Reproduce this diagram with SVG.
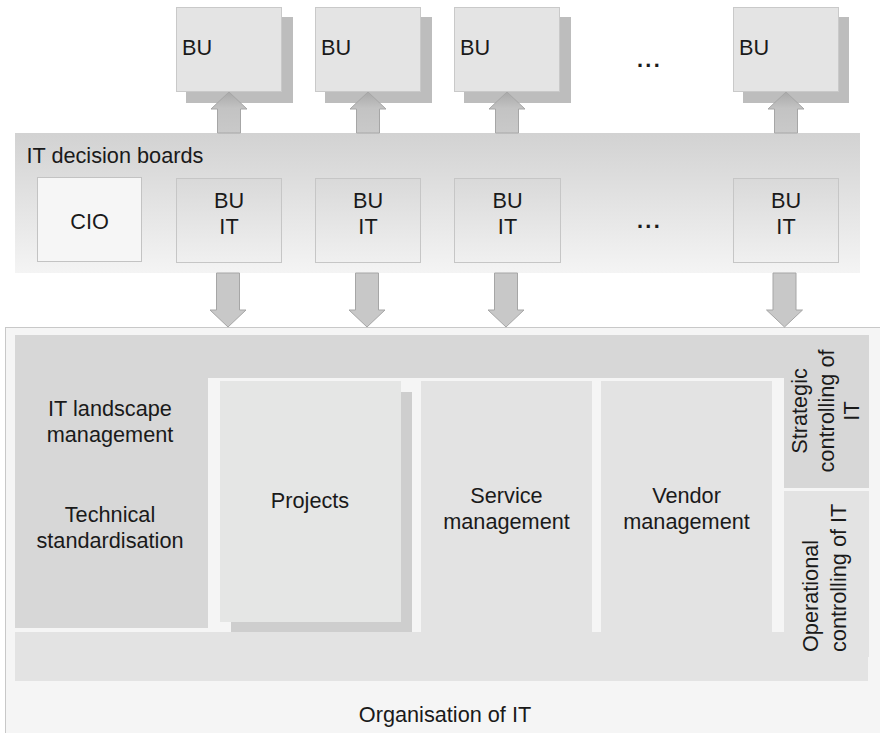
<svg xmlns="http://www.w3.org/2000/svg" width="880" height="733" viewBox="0 0 880 733">
<defs>
<style>
text{font-family:"Liberation Sans",Arial,sans-serif;font-size:21.7px;fill:#1a1a1a}
.c{text-anchor:middle}
.bu{fill:#e4e4e4;stroke:#c9c9c9;stroke-width:1}
.sh{fill:#bdbdbd}
.buit{fill:url(#gBox);stroke:#c6c6c6;stroke-width:1}
.arr{fill:url(#gArr);stroke:#a6a6a6;stroke-width:1}
.arrd{fill:#c8c8c8;stroke:#a6a6a6;stroke-width:1}
.dk{fill:#d7d7d7}
.md{fill:#e3e3e3}
.dots{font-weight:bold;letter-spacing:2.3px}
</style>
<linearGradient id="gBand" x1="0" y1="0" x2="0" y2="1"><stop offset="0" stop-color="#d2d2d2"/><stop offset="1" stop-color="#f4f4f4"/></linearGradient>
<linearGradient id="gBox" x1="0" y1="0" x2="0" y2="1"><stop offset="0" stop-color="#d9d9d9"/><stop offset="1" stop-color="#f0f0f0"/></linearGradient>
<linearGradient id="gArr" x1="0" y1="0" x2="0" y2="1"><stop offset="0" stop-color="#a9a9a9"/><stop offset="0.4" stop-color="#c3c3c3"/><stop offset="1" stop-color="#c9c9c9"/></linearGradient>
</defs>
<rect width="880" height="733" fill="#ffffff"/>

<g id="organisation">
<rect x="5.5" y="327.5" width="890" height="420" fill="#f5f5f5" stroke="#c8c8c8"/>
<rect class="dk" x="15" y="335" width="854" height="43"/>
<rect class="md" x="15" y="632" width="853" height="49"/>
<text class="c" x="445" y="722">Organisation of IT</text>
</g>

<g id="landscape">
<rect class="dk" x="15" y="335" width="193" height="293"/>
<text class="c" x="110" y="415.5">IT landscape</text>
<text class="c" x="110" y="441.5">management</text>
<text class="c" x="110" y="522">Technical</text>
<text class="c" x="110" y="548">standardisation</text>
</g>

<g id="projects">
<rect fill="#cecece" x="231" y="392" width="181" height="240"/>
<rect fill="#e5e6e5" x="220" y="381" width="181" height="241"/>
<text class="c" x="310" y="507.5">Projects</text>
</g>

<g id="service">
<rect class="md" x="421" y="381" width="171" height="251"/>
<text class="c" x="506.5" y="502.5">Service</text>
<text class="c" x="506.5" y="528.5">management</text>
</g>

<g id="vendor">
<rect class="md" x="601" y="381" width="171" height="251"/>
<text class="c" x="686.5" y="502.5">Vendor</text>
<text class="c" x="686.5" y="528.5">management</text>
</g>

<g id="strategic">
<rect class="dk" x="784" y="335" width="85" height="153"/>
<text class="c" transform="translate(826,411) rotate(-90)"><tspan x="0" y="-19">Strategic</tspan><tspan x="0" y="8">controlling of</tspan><tspan x="0" y="33">IT</tspan></text>
</g>

<g id="operational">
<rect class="md" x="784" y="491" width="85" height="166"/>
<text transform="rotate(-90)"><tspan x="-652" y="818">Operational</tspan><tspan x="-652" y="846">controlling of IT</tspan></text>
</g>

<g id="bu1"><rect class="sh" x="186" y="17" width="107" height="86"/><rect class="bu" x="176.5" y="7.5" width="105" height="84"/><text x="182" y="55">BU</text></g>
<g id="bu2"><rect class="sh" x="325" y="17" width="107" height="86"/><rect class="bu" x="315.5" y="7.5" width="105" height="84"/><text x="321" y="55">BU</text></g>
<g id="bu3"><rect class="sh" x="464" y="17" width="107" height="86"/><rect class="bu" x="454.5" y="7.5" width="105" height="84"/><text x="460" y="55">BU</text></g>
<g id="bu-more"><text class="dots" x="637" y="67">...</text></g>
<g id="bu4"><rect class="sh" x="743" y="17" width="106" height="86"/><rect class="bu" x="733.5" y="7.5" width="105" height="84"/><text x="739" y="55">BU</text></g>

<g id="decision-boards">
<rect x="15" y="133" width="845" height="140" fill="url(#gBand)"/>
<text x="26.5" y="162.5">IT decision boards</text>
</g>
<g id="cio"><rect x="37.5" y="177.5" width="104" height="84" fill="#f6f6f6" stroke="#c3c3c3"/><text class="c" x="89.5" y="229">CIO</text></g>
<g id="buit1"><rect class="buit" x="176.5" y="178.5" width="105" height="84"/><text class="c" x="229" y="208">BU</text><text class="c" x="229" y="234">IT</text></g>
<g id="buit2"><rect class="buit" x="315.5" y="178.5" width="105" height="84"/><text class="c" x="368" y="208">BU</text><text class="c" x="368" y="234">IT</text></g>
<g id="buit3"><rect class="buit" x="454.5" y="178.5" width="106" height="84"/><text class="c" x="507.5" y="208">BU</text><text class="c" x="507.5" y="234">IT</text></g>
<g id="buit-more"><text class="dots" x="637" y="228">...</text></g>
<g id="buit4"><rect class="buit" x="733.5" y="178.5" width="105" height="84"/><text class="c" x="786" y="208">BU</text><text class="c" x="786" y="234">IT</text></g>

<g id="connectors">
<path class="arr" d="M217.5,133V109H211L229,92L247,109H240.5V133Z"/>
<path class="arr" d="M356.5,133V109H350L368,92L386,109H379.5V133Z"/>
<path class="arr" d="M495.5,133V109H489L507,92L525,109H518.5V133Z"/>
<path class="arr" d="M774.5,133V109H768L786,92L804,109H797.5V133Z"/>
<path class="arrd" d="M216.5,273V310H210L228,327L246,310H239.5V273Z"/>
<path class="arrd" d="M355.5,273V310H349L367,327L385,310H378.5V273Z"/>
<path class="arrd" d="M494.5,273V310H488L506,327L524,310H517.5V273Z"/>
<path class="arrd" d="M773,273V310H766.5L784.5,327L802.5,310H796V273Z"/>
</g>
</svg>
